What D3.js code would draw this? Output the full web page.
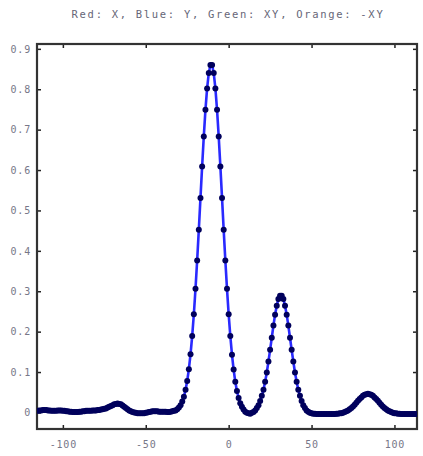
<!DOCTYPE html>
<html><head><meta charset="utf-8">
<script src="https://cdn.jsdelivr.net/npm/d3@7"></script>
<style>body{margin:0;background:#fff}svg{display:block}</style>
</head><body>
<script>
const titleText = "Red: X, Blue: Y, Green: XY, Orange: -XY";
const xStart = -115, xStep = 1;
const yValues = [
 0.004,0.005,0.005,0.006,0.006,0.006,0.005,0.005,0.004,0.004, // -115..-106
 0.004,0.004,0.005,0.005,0.005,0.004,0.004,0.003,0.003,0.002, // -105..-96
 0.002,0.001,0.001,0.001,0.001,0.002,0.002,0.003,0.003,0.004, // -95..-86
 0.004,0.004,0.004,0.005,0.005,0.005,0.006,0.006,0.007,0.008, // -85..-76
 0.009,0.010,0.012,0.014,0.016,0.018,0.020,0.021,0.022,0.021, // -75..-66
 0.020,0.017,0.014,0.011,0.008,0.005,0.003,0.001,0.000,-0.001, // -65..-56
 -0.002,-0.002,-0.002,-0.002,-0.002,-0.001,0.000,0.001,0.002,0.003, // -55..-46
 0.003,0.003,0.003,0.002,0.002,0.002,0.002,0.002,0.001,0.001, // -45..-36
 0.002,0.003,0.004,0.005,0.008,0.012,0.018,0.027,0.039,0.056, // -35..-26
 0.078,0.107,0.144,0.189,0.243,0.306,0.376,0.452,0.531,0.609, // -25..-16
 0.683,0.749,0.802,0.840,0.860,0.860,0.840,0.802,0.749,0.683, // -15..-6
 0.609,0.531,0.452,0.376,0.306,0.243,0.189,0.143,0.106,0.076, // -5..4
 0.053,0.036,0.023,0.014,0.007,0.002,-0.001,-0.002,-0.003,-0.001, // 5..14
 0.001,0.005,0.011,0.018,0.028,0.041,0.056,0.076,0.099,0.126, // 15..24
 0.155,0.185,0.215,0.242,0.264,0.281,0.289,0.289,0.281,0.264, // 25..34
 0.242,0.215,0.185,0.155,0.126,0.099,0.076,0.056,0.041,0.028, // 35..44
 0.018,0.011,0.005,0.002,-0.001,-0.002,-0.003,-0.003,-0.004,-0.004, // 45..54
 -0.004,-0.004,-0.004,-0.004,-0.004,-0.004,-0.004,-0.004,-0.004,-0.004, // 55..64
 -0.003,-0.003,-0.002,-0.002,-0.001,0.001,0.003,0.005,0.008,0.011, // 65..74
 0.015,0.019,0.024,0.029,0.033,0.037,0.041,0.044,0.045,0.046, // 75..84
 0.045,0.044,0.041,0.037,0.033,0.029,0.024,0.019,0.015,0.011, // 85..94
 0.008,0.005,0.003,0.001,-0.001,-0.002,-0.002,-0.003,-0.003,-0.004, // 95..104
 -0.004,-0.004,-0.004,-0.004,-0.004,-0.004,-0.004,-0.004,-0.004,-0.004, // 105..114
 -0.004 // 115
];
const xTicks = [-100, -50, 0, 50, 100];
const xTickLabels = ["-100", "-50", "0", "50", "100"];
const yTicks = [0, 0.1, 0.2, 0.3, 0.4, 0.5, 0.6, 0.7, 0.8, 0.9];
const yTickLabels = ["0", "0.1", "0.2", "0.3", "0.4", "0.5", "0.6", "0.7", "0.8", "0.9"];

const W = 423, H = 456;
const L = 37, R = 417, T = 44, B = 429;
const svg = d3.select("body").append("svg").attr("width", W).attr("height", H);

const x = d3.scaleLinear().domain([-115.6, 113.6]).range([L, R]);
const y = d3.scaleLinear().domain([-0.041, 0.912]).range([B, T]);

const data = yValues.map((v, i) => ({x: xStart + i * xStep, y: v}));

svg.append("defs").append("clipPath").attr("id", "clip")
  .append("rect").attr("x", L).attr("y", T).attr("width", R - L).attr("height", B - T);

// title
svg.append("text").attr("x", 228).attr("y", 18).attr("text-anchor", "middle")
  .attr("font-family", "DejaVu Sans Mono").attr("font-size", 10.5)
  .attr("letter-spacing", 1.7).attr("fill", "#667").text(titleText);

// axes with inward ticks
const tickFmtX = (d, i) => xTickLabels[i];
const tickFmtY = (d, i) => yTickLabels[i];
const axB = svg.append("g").attr("transform", `translate(0,${B})`)
  .call(d3.axisBottom(x).tickValues(xTicks).tickFormat(tickFmtX).tickSizeInner(-4).tickSizeOuter(0).tickPadding(12));
const axT = svg.append("g").attr("transform", `translate(0,${T})`)
  .call(d3.axisTop(x).tickValues(xTicks).tickFormat("").tickSizeInner(-4).tickSizeOuter(0));
const axL = svg.append("g").attr("transform", `translate(${L},0)`)
  .call(d3.axisLeft(y).tickValues(yTicks).tickFormat(tickFmtY).tickSizeInner(-4).tickSizeOuter(0).tickPadding(6));
const axR = svg.append("g").attr("transform", `translate(${R},0)`)
  .call(d3.axisRight(y).tickValues(yTicks).tickFormat("").tickSizeInner(-4).tickSizeOuter(0));
[axB, axT, axL, axR].forEach(a => {
  a.select(".domain").remove();
  a.selectAll(".tick line").attr("stroke", "#222").attr("stroke-width", 1.5);
  a.selectAll("text").attr("font-family", "DejaVu Sans Mono").attr("font-size", 10)
    .attr("letter-spacing", 0.8).attr("fill", "#778");
});

// frame
svg.append("rect").attr("x", L).attr("y", T).attr("width", R - L).attr("height", B - T)
  .attr("fill", "none").attr("stroke", "#333").attr("stroke-width", 2.2);

const g = svg.append("g").attr("clip-path", "url(#clip)");
g.append("path").datum(data)
  .attr("d", d3.line().x(d => x(d.x)).y(d => y(d.y)))
  .attr("fill", "none").attr("stroke", "#2a2aff").attr("stroke-width", 2.6);
g.selectAll("circle").data(data).join("circle")
  .attr("cx", d => x(d.x)).attr("cy", d => y(d.y)).attr("r", 3)
  .attr("fill", "#00005c");
</script>
</body></html>
